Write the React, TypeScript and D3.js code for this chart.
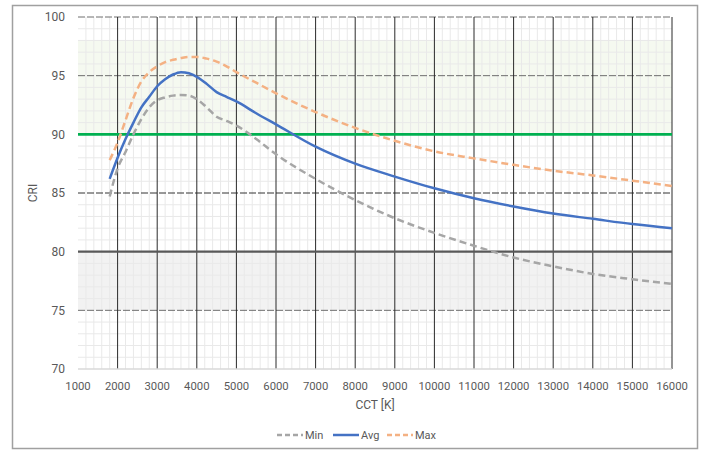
import React from "react";
import * as d3 from "d3";

const cct = [1800, 2000, 2200, 2400, 2600, 2800, 3000, 3200, 3400, 3600, 3800, 4000, 4250, 4500, 4750, 5000, 5500, 6000, 7000, 8000, 9000, 10000, 11000, 12000, 13000, 14000, 15000, 16000];
const minCRI = [84.7, 87.1, 88.5, 90.0, 91.3, 92.3, 92.9, 93.15, 93.3, 93.35, 93.3, 93.0, 92.3, 91.5, 91.15, 90.75, 89.6, 88.3, 86.2, 84.4, 82.85, 81.6, 80.5, 79.5, 78.75, 78.1, 77.65, 77.25];
const avgCRI = [86.2, 88.0, 89.6, 91.0, 92.3, 93.2, 94.1, 94.7, 95.1, 95.3, 95.2, 94.9, 94.3, 93.6, 93.2, 92.8, 91.8, 90.85, 88.95, 87.5, 86.4, 85.4, 84.55, 83.85, 83.25, 82.8, 82.35, 82.0];
const maxCRI = [87.8, 89.3, 91.2, 93.1, 94.5, 95.3, 95.8, 96.15, 96.35, 96.5, 96.6, 96.6, 96.45, 96.2, 95.8, 95.3, 94.4, 93.5, 91.9, 90.55, 89.45, 88.55, 87.95, 87.4, 86.9, 86.5, 86.05, 85.6];

const xTicks = d3.range(1000, 16001, 1000);
const yTicks = [70, 75, 80, 85, 90, 95, 100];
const seriesNames = ["Min", "Avg", "Max"];

const W = 705, H = 451;
const L = 78, R = 672, T = 17, B = 369;

export default function App() {
  const x = d3.scaleLinear().domain([1000, 16000]).range([L, R]);
  const y = d3.scaleLinear().domain([70, 100]).range([B, T]);
  const line = (vals: number[]) =>
    d3.line<number>().x((_, i) => x(cct[i])).y((v) => y(v)).curve(d3.curveMonotoneX)(vals) || "";

  const minorX = d3.range(1000, 16001, 200).filter((v) => v % 1000 !== 0);
  const minorY = d3.range(70, 101, 1).filter((v) => v % 5 !== 0);
  const series = [
    { name: seriesNames[0], vals: minCRI, color: "#a6a6a6", dash: "7,4" },
    { name: seriesNames[1], vals: avgCRI, color: "#4472c4", dash: undefined },
    { name: seriesNames[2], vals: maxCRI, color: "#f4b183", dash: "7,4" },
  ];
  const font = "Roboto, 'DejaVu Sans', sans-serif";
  const legendX = [277, 333, 387];

  return (
    <svg width={W} height={H} style={{ position: "absolute", left: 0, top: 0 }} fontFamily={font}>
      <rect x={0} y={0} width={W} height={H} fill="#fff" />
      <rect x={12.5} y={5.5} width={685} height={443} fill="#fff" stroke="#a0a0a0" strokeWidth={1.5} />
      {/* bands */}
      <rect x={L} y={y(98)} width={R - L} height={y(90) - y(98)} fill="#f5f9f0" />
      <rect x={L} y={y(80)} width={R - L} height={y(75) - y(80)} fill="#f2f2f2" />
      {/* minor grid */}
      {minorX.map((v) => (
        <line key={"mx" + v} x1={x(v)} x2={x(v)} y1={T} y2={B} stroke="#e9e9e9" strokeWidth={1} />
      ))}
      {minorY.map((v) => (
        <line key={"my" + v} x1={L} x2={R} y1={y(v)} y2={y(v)} stroke="#e9e9e9" strokeWidth={1} />
      ))}
      {/* major horizontal dashed */}
      {[100, 95, 85, 75].map((v) => (
        <line key={"hy" + v} x1={L} x2={R} y1={y(v)} y2={y(v)} stroke={v === 85 ? "#333" : "#6e6e6e"} strokeWidth={1} strokeDasharray="7,2" />
      ))}
      {/* major vertical */}
      {xTicks.slice(1).map((v) => (
        <line key={"vx" + v} x1={x(v)} x2={x(v)} y1={T} y2={B} stroke="#2a2a2a" strokeWidth={1} />
      ))}
      {/* axis line bottom */}
      <line x1={L} x2={R} y1={B} y2={B} stroke="#d9d9d9" strokeWidth={1.5} />
      {/* 80 line */}
      <line x1={L} x2={R} y1={y(80)} y2={y(80)} stroke="#595959" strokeWidth={2.2} />
      {/* 90 line */}
      <line x1={L} x2={R} y1={y(90)} y2={y(90)} stroke="#00b050" strokeWidth={2.8} />
      {/* series */}
      {series.map((s) => (
        <path key={s.name} d={line(s.vals)} fill="none" stroke={s.color} strokeWidth={2.5} strokeDasharray={s.dash} />
      ))}
      {/* y ticks */}
      {yTicks.map((v) => (
        <text key={"yt" + v} x={65} y={y(v)} dy="0.35em" textAnchor="end" fontSize={12} fill="#595959">{v}</text>
      ))}
      {xTicks.map((v) => (
        <text key={"xt" + v} x={x(v)} y={390} textAnchor="middle" fontSize={11.3} fill="#595959">{v}</text>
      ))}
      <text x={(L + R) / 2} y={409} textAnchor="middle" fontSize={12} fill="#595959">CCT [K]</text>
      <text transform={`translate(37,${(T + B) / 2}) rotate(-90)`} textAnchor="middle" fontSize={12} fill="#595959">CRI</text>
      {/* legend */}
      {series.map((s, i) => (
        <g key={"lg" + s.name}>
          <line x1={legendX[i]} x2={legendX[i] + 26} y1={435} y2={435} stroke={s.color} strokeWidth={2.5} strokeDasharray={s.dash ? "5,3" : undefined} />
          <text x={legendX[i] + 28} y={435} dy="0.35em" fontSize={11} fill="#595959">{s.name}</text>
        </g>
      ))}
    </svg>
  );
}
